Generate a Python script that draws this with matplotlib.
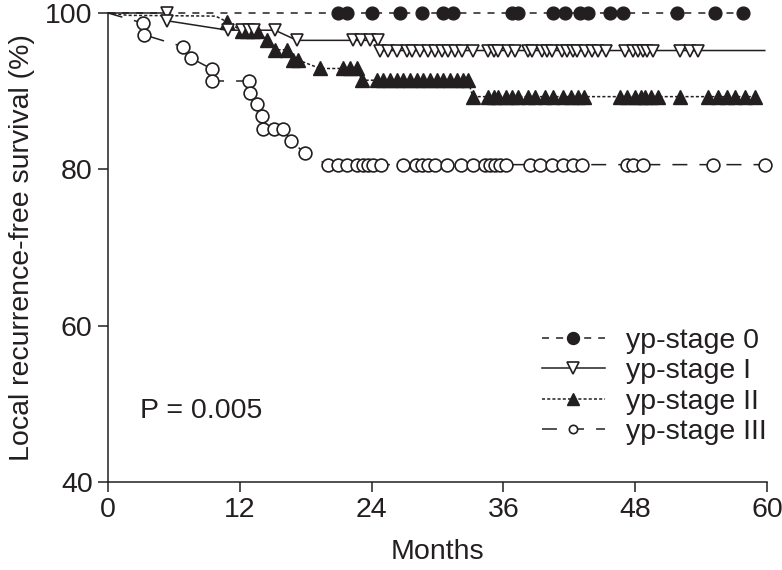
import matplotlib
matplotlib.use('Agg')
import matplotlib.pyplot as plt

plt.rcParams['font.family'] = ['Liberation Sans', 'DejaVu Sans']

INK = '#231f20'

# yp-stage 0 : months / survival (%) ; first point is the unmarked start
s0_t = [0, 20.9, 21.8, 24.0, 26.6, 28.6, 30.5, 31.4, 36.8, 37.3, 40.5, 41.6,
        43.0, 43.7, 45.7, 46.9, 51.8, 55.3, 57.8]
s0_s = [100] * len(s0_t)

# yp-stage I : first and last points unmarked
s1_t = [0, 5.4, 5.4, 10.9, 12.2, 12.8, 13.3, 15.2, 17.2, 22.3, 23.0, 23.9, 24.6,
        24.8, 25.5, 26.3, 27.2, 27.7, 28.4, 29.1, 29.8, 30.4, 31.0, 31.6, 32.2,
        33.2, 34.6, 35.1, 35.5, 36.4, 37.1, 38.2, 38.6, 39.5, 40.0, 40.4, 41.3,
        41.8, 42.3, 42.7, 43.4, 44.1, 44.6, 45.3, 47.1, 47.8, 48.3, 48.7, 49.1,
        49.6, 52.1, 53.0, 53.7, 59.8]
s1_s = [100, 100, 99.0, 97.8, 97.8, 97.8, 97.8, 97.8, 96.5, 96.5, 96.5, 96.5, 96.5,
        95.2, 95.2, 95.2, 95.2, 95.2, 95.2, 95.2, 95.2, 95.2, 95.2, 95.2, 95.2,
        95.2, 95.2, 95.2, 95.2, 95.2, 95.2, 95.2, 95.2, 95.2, 95.2, 95.2, 95.2,
        95.2, 95.2, 95.2, 95.2, 95.2, 95.2, 95.2, 95.2, 95.2, 95.2, 95.2, 95.2,
        95.2, 95.2, 95.2, 95.2, 95.2]

# yp-stage II : first three points unmarked
s2_t = [0, 1.8, 9.8, 10.8, 12.2, 12.7, 13.2, 13.6, 14.5, 15.2, 16.3, 16.8, 17.3,
        19.3, 21.4, 22.0, 22.7, 23.1, 24.5, 25.0, 25.7, 26.3, 26.9, 27.5, 28.1,
        28.7, 29.3, 30.0, 30.5, 31.1, 31.8, 32.3, 32.8, 33.2, 34.6, 35.1, 35.5,
        36.2, 36.8, 37.3, 38.2, 38.9, 39.8, 40.5, 41.4, 42.2, 42.8, 43.3, 46.6,
        47.3, 48.0, 48.5, 48.9, 49.4, 50.1, 52.1, 54.6, 55.5, 56.4, 57.1, 58.0, 58.9]
s2_s = [100, 99.7, 99.6, 98.9, 97.7, 97.7, 97.7, 97.7, 96.5, 95.3, 95.3, 94.0, 94.0,
        92.9, 92.9, 92.9, 92.9, 91.4, 91.4, 91.4, 91.4, 91.4, 91.4, 91.4, 91.4,
        91.4, 91.4, 91.4, 91.4, 91.4, 91.4, 91.4, 91.4, 89.3, 89.3, 89.3, 89.3,
        89.3, 89.3, 89.3, 89.3, 89.3, 89.3, 89.3, 89.3, 89.3, 89.3, 89.3, 89.3,
        89.3, 89.3, 89.3, 89.3, 89.3, 89.3, 89.3, 89.3, 89.3, 89.3, 89.3, 89.3, 89.3]

# yp-stage III : first point unmarked
s3_t = [0, 3.2, 3.3, 6.8, 7.6, 9.5, 9.5, 12.8, 12.9, 13.6, 14.0, 14.1, 15.1, 15.9,
        16.7, 17.9, 20.0, 20.9, 21.8, 22.7, 23.2, 23.7, 24.1, 24.9, 26.9, 28.0,
        28.6, 29.1, 29.8, 30.9, 32.1, 33.2, 34.3, 34.8, 35.2, 35.7, 36.2, 38.4,
        39.3, 40.4, 41.4, 42.3, 43.2, 47.3, 47.8, 48.7, 55.1, 59.8]
s3_s = [100, 98.7, 97.2, 95.7, 94.2, 92.8, 91.3, 91.3, 89.8, 88.4, 86.8, 85.2, 85.2, 85.2,
        83.6, 82.1, 80.6, 80.6, 80.6, 80.6, 80.6, 80.6, 80.6, 80.6, 80.6, 80.6,
        80.6, 80.6, 80.6, 80.6, 80.6, 80.6, 80.6, 80.6, 80.6, 80.6, 80.6, 80.6,
        80.6, 80.6, 80.6, 80.6, 80.6, 80.6, 80.6, 80.6, 80.6, 80.6]

labels = ['yp-stage 0', 'yp-stage I', 'yp-stage II', 'yp-stage III']
x_ticks = [0, 12, 24, 36, 48, 60]
y_ticks = [40, 60, 80, 100]
p_text = 'P = 0.005'

fig = plt.figure(figsize=(7.82, 5.70), dpi=100)
ax = fig.add_axes([0.1381, 0.1544, 0.8427, 0.8228])

lw = 1.1
fs = 20.5
ax.plot(s0_t, s0_s, color=INK, lw=lw, dashes=(4.6, 4.6), marker='o', ms=9.2,
        mfc=INK, mec=INK, markevery=slice(1, None), clip_on=False, label=labels[0], zorder=3)
ax.plot(s1_t, s1_s, color=INK, lw=lw, ls='-', marker='v', ms=9, mfc='white',
        mec=INK, mew=1.2, markevery=slice(1, -1), clip_on=False, label=labels[1], zorder=4)
ax.plot(s2_t, s2_s, color=INK, lw=lw, dashes=(2, 1.4), marker='^', ms=10,
        mfc=INK, mec=INK, markevery=slice(3, None), clip_on=False, label=labels[2], zorder=3)
ax.plot(s3_t, s3_s, color=INK, lw=lw, dashes=(9.8, 7.9), marker='o', ms=9.2,
        mfc='white', mec=INK, mew=1.2, markevery=slice(1, None), clip_on=False,
        label=labels[3], zorder=3)

ax.set_xlim(0, 60)
ax.set_ylim(40, 100)
ax.set_xticks(x_ticks)
ax.set_yticks(y_ticks)
for s in ['top', 'right']:
    ax.spines[s].set_visible(False)
for s in ['left', 'bottom']:
    ax.spines[s].set_linewidth(1.1)
    ax.spines[s].set_color(INK)
ax.tick_params(direction='out', length=7, width=1.1, colors=INK, labelsize=fs, pad=4)

ax.set_xlabel('Months', fontsize=fs, color=INK, labelpad=11)
ax.set_ylabel('Local recurrence-free survival (%)', fontsize=fs, color=INK, labelpad=7)

ax.text(2.9, 49.1, p_text, fontsize=fs, color=INK, va='center', ha='left')

leg = ax.legend(loc='lower right', bbox_to_anchor=(1.017, 0.055), frameon=False,
                fontsize=fs, handlelength=2.2, handletextpad=0.75,
                labelspacing=0.15, borderaxespad=0)
leg_ms = [8.6, 8.0, 8.6, 6.0]
for h, m in zip(leg.legend_handles, leg_ms):
    h.set_markersize(m)
for t in leg.get_texts():
    t.set_color(INK)

fig.savefig('out.png', dpi=100)
